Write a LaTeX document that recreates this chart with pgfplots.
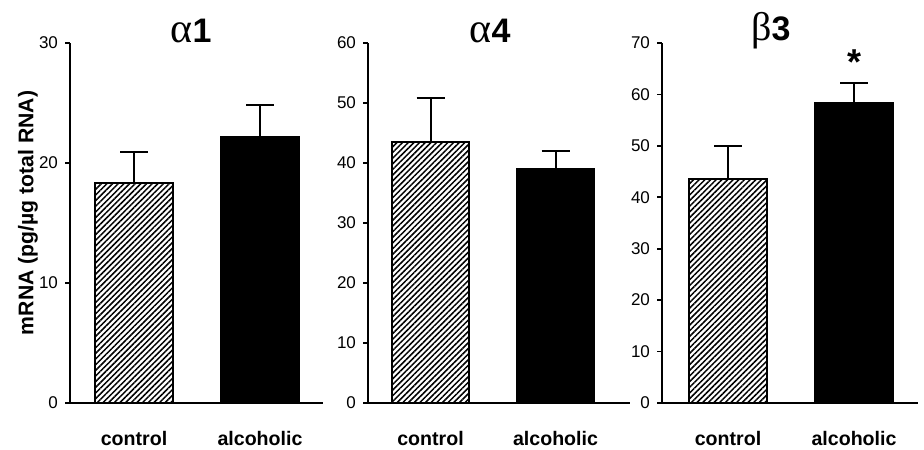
\documentclass[border=0pt]{standalone}
\usepackage{pgfplots}
\pgfplotsset{compat=1.18}
\usepackage{fontspec}
\setmainfont{Liberation Sans}
\newfontfamily\greekfont{Liberation Serif}
\usetikzlibrary{patterns.meta}

\pgfplotsset{
  panel/.style={
    scale only axis, height=180pt, ymin=0, xmin=0,
    enlargelimits=false,
    axis x line=bottom, axis y line=left,
    axis line style={-, line width=1pt},
    tick align=outside, major tick length=2.5pt,
    ytick style={line width=0.8pt, black},
    xtick style={draw=none},
    xticklabels={control,alcoholic},
    xticklabel style={font=\fontsize{9.8}{11}\selectfont\bfseries, yshift=-8pt},
    yticklabel style={font=\fontsize{8.5}{9}\selectfont},
    /pgf/number format/assume math mode=true,
    ybar, bar shift=0pt,
    error bars/y dir=plus, error bars/y explicit,
    error bars/error bar style={line width=1pt, black},
    error bars/error mark options={rotate=90, mark size=7pt, line width=1pt, black},
  },
  hatchbar/.style={draw=black, line width=0.9pt,
    pattern={Lines[angle=45,distance=2pt,line width=0.75pt]}},
  blackbar/.style={draw=black, fill=black, line width=0.8pt},
}

\begin{document}
\begin{tikzpicture}
\path[use as bounding box] (0,0) rectangle (462pt,224.5pt);

% alpha 1
\begin{axis}[panel, at={(35pt,23pt)}, anchor=south west,
  width=126.5pt, xmax=253, ymax=30, ytick={0,10,20,30},
  xtick={64,190}, bar width=78]
\addplot[hatchbar] coordinates {(64,18.3) +- (0,2.6)};
\addplot[blackbar] coordinates {(190,22.2) +- (0,2.6)};
\end{axis}

% alpha 4
\begin{axis}[panel, at={(184pt,23pt)}, anchor=south west,
  width=131pt, xmax=262, ymax=60, ytick={0,10,...,60},
  xtick={62.5,187.5}, bar width=77]
\addplot[hatchbar] coordinates {(62.5,43.5) +- (0,7.4)};
\addplot[blackbar] coordinates {(187.5,39.0) +- (0,3.0)};
\end{axis}

% beta 3
\begin{axis}[panel, at={(331pt,23pt)}, anchor=south west,
  width=128pt, xmax=256, ymax=70, ytick={0,10,...,70},
  xtick={66,192}, bar width=78, clip=false]
\addplot[hatchbar] coordinates {(66,43.6) +- (0,6.4)};
\addplot[blackbar] coordinates {(192,58.3) +- (0,3.9)};
\node[anchor=north, inner sep=0pt, font=\fontsize{18}{18}\selectfont\bfseries] at (axis cs:192,68.8) {*};
\end{axis}

% titles
\node[font=\fontsize{17}{17}\selectfont\bfseries] at (95.5pt,209pt) {{\greekfont\fontsize{21}{21}\selectfont\mdseries α}1};
\node[font=\fontsize{17}{17}\selectfont\bfseries] at (245pt,209pt) {{\greekfont\fontsize{21}{21}\selectfont\mdseries α}4};
\node[font=\fontsize{17}{17}\selectfont\bfseries] at (385.5pt,209pt) {{\greekfont\fontsize{20}{20}\selectfont\mdseries β}3};

% y label
\node[rotate=90, font=\fontsize{10.6}{11}\selectfont\bfseries] at (14pt,118pt) {mRNA (pg/µg total RNA)};
\end{tikzpicture}
\end{document}
